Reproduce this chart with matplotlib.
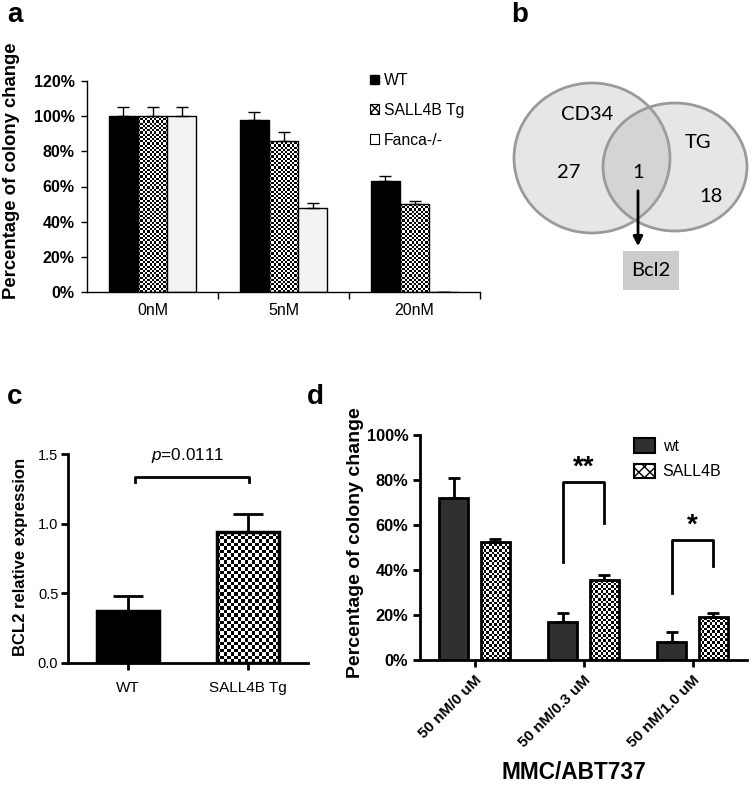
import numpy as np
import matplotlib
matplotlib.use('Agg')
import matplotlib.pyplot as plt
from matplotlib.patches import Ellipse, Rectangle, Patch

plt.rcParams['font.family'] = ['Liberation Sans', 'DejaVu Sans']
plt.rcParams['mathtext.fontset'] = 'custom'
plt.rcParams['mathtext.it'] = 'Liberation Sans:italic'
plt.rcParams['mathtext.rm'] = 'Liberation Sans'

# ---- data ----
# panel a
conc = ['0nM', '5nM', '20nM']
wt_a = [100, 98, 63]
wt_a_err = [5, 4.5, 3]
tg_a = [100, 86, 50]
tg_a_err = [5, 5, 2]
fa_a = [100, 48, 0]
fa_a_err = [5, 2.5, 0]
legend_a = ['WT', 'SALL4B Tg', 'Fanca-/-']

# panel b
venn_names = ['CD34', 'TG']
venn_counts = [27, 1, 18]
shared_gene = 'Bcl2'

# panel c
groups_c = ['WT', 'SALL4B Tg']
bcl2 = [0.37, 0.94]
bcl2_err = [0.11, 0.13]
p_label = r'$\it{p}$=0.0111'

# panel d
combos = ['50 nM/0 uM', '50 nM/0.3 uM', '50 nM/1.0 uM']
wt_d = [72, 17, 8]
wt_d_err = [9, 4, 4.5]
tg_d = [52.5, 35.5, 19]
tg_d_err = [1.5, 2.3, 2]
legend_d = ['wt', 'SALL4B']
stars = ['', '**', '*']


W, H = 754, 786
fig = plt.figure(figsize=(W / 100, H / 100), dpi=100)


def box(l, r, top, bot):
    return [l / W, 1 - bot / H, (r - l) / W, (bot - top) / H]


def checker(ax, bars, cell):
    # fill the bars with a black/white checkerboard
    for b in bars:
        x, y, w, h = b.get_x(), b.get_y(), b.get_width(), b.get_height()
        if h <= 0:
            continue
        p0 = ax.transData.transform((x, y))
        p1 = ax.transData.transform((x + w, y + h))
        nx = max(1, int(round(abs(p1[0] - p0[0]) / cell)))
        ny = max(1, int(round(abs(p1[1] - p0[1]) / cell)))
        board = np.add.outer(np.arange(ny), np.arange(nx)) % 2
        im = ax.imshow(board, cmap='gray', extent=(x, x + w, y, y + h),
                       interpolation='nearest', aspect='auto', zorder=1.5)
        im.set_clip_path(b)


def spines(ax, lw):
    ax.spines['top'].set_visible(False)
    ax.spines['right'].set_visible(False)
    ax.spines['left'].set_linewidth(lw)
    ax.spines['bottom'].set_linewidth(lw)


# ---------- panel a ----------
axA = fig.add_axes(box(87, 480, 81, 292))
spines(axA, 1)
x = np.arange(len(conc))
bw = 0.222
axA.set_xlim(-0.5, 2.5)
axA.set_ylim(0, 120)
axA.set_autoscale_on(False)
ek = dict(ecolor='k', elinewidth=1, capsize=4, capthick=1)
axA.bar(x - bw, wt_a, bw, color='k', edgecolor='k', linewidth=1,
        yerr=[[0] * 3, wt_a_err], error_kw=ek, zorder=2)
b_tg = axA.bar(x, tg_a, bw, color='none', edgecolor='k', linewidth=1,
               yerr=[[0] * 3, tg_a_err], error_kw=ek, zorder=2)
axA.bar(x + bw, fa_a, bw, color='#f2f2f2', edgecolor='k', linewidth=1,
        yerr=[[0] * 3, fa_a_err], error_kw=ek, zorder=2)
checker(axA, b_tg, 2.2)
axA.set_yticks(np.arange(0, 121, 20))
axA.set_yticklabels([f'{v}%' for v in range(0, 121, 20)], fontweight='bold', fontsize=11.5)
axA.tick_params(axis='y', length=4, width=1, pad=5)
axA.set_xticks(x)
axA.set_xticklabels(conc, fontsize=11.5)
axA.set_xticks([0.5, 1.5, 2.5], minor=True)
axA.tick_params(axis='x', which='major', length=0, pad=8)
axA.tick_params(axis='x', which='minor', length=5, width=1)
axA.set_ylabel('Percentage of colony change', fontweight='bold', fontsize=13.3)
axA.yaxis.set_label_coords(-0.17, 0.575)
hA = [Patch(facecolor='k', edgecolor='k'),
      Patch(facecolor='white', edgecolor='k', hatch='xxxx', linewidth=0.8),
      Patch(facecolor='white', edgecolor='k', linewidth=0.8)]
axA.legend(hA, legend_a, loc='upper left', bbox_to_anchor=(0.70, 1.075), frameon=False,
           fontsize=11.3, handlelength=0.6, handleheight=0.6, handletextpad=0.3,
           labelspacing=0.95, borderpad=0)

# ---------- panel b ----------
axB = fig.add_axes(box(490, 754, 40, 310))
axB.set_xlim(490, 754)
axB.set_ylim(310, 40)
axB.axis('off')
for (cx, cy, ew, eh) in [(592, 158, 156, 150), (675, 167, 144, 128)]:
    axB.add_patch(Ellipse((cx, cy), ew, eh, facecolor='#a6a6a6', alpha=0.28, edgecolor='none'))
    axB.add_patch(Ellipse((cx, cy), ew, eh, facecolor='none', edgecolor='#9a9a9a', linewidth=2))
vf = dict(family=['Lato', 'DejaVu Sans'], fontsize=14.5, ha='center', va='center')
axB.text(587, 115, venn_names[0], **vf)
axB.text(698, 143, venn_names[1], **vf)
axB.text(569, 173, str(venn_counts[0]), **vf)
axB.text(638, 173, str(venn_counts[1]), **vf)
axB.text(711, 197, str(venn_counts[2]), **vf)
axB.annotate('', xy=(638, 249), xytext=(638, 188),
             arrowprops=dict(arrowstyle='-|>', color='k', lw=2, mutation_scale=14))
axB.add_patch(Rectangle((623, 251), 56, 39, facecolor='#cccccc', edgecolor='none'))
axB.text(651, 271, shared_gene, **vf)

# ---------- panel c ----------
axC = fig.add_axes(box(68, 308, 454, 663))
spines(axC, 2)
xc = np.arange(len(groups_c))
axC.set_xlim(-0.5, 1.5)
axC.set_ylim(0, 1.5)
axC.set_autoscale_on(False)
bc = axC.bar(xc, bcl2, 0.52, color=['k', 'none'], edgecolor='k', linewidth=2.5,
             yerr=[[0, 0], bcl2_err],
             error_kw=dict(ecolor='k', elinewidth=2, capsize=10.5, capthick=2), zorder=2)
checker(axC, [bc[1]], 3.5)
axC.set_yticks([0, 0.5, 1.0, 1.5])
axC.set_yticklabels(['0.0', '0.5', '1.0', '1.5'], fontsize=10.5)
axC.set_xticks(xc)
axC.set_xticklabels(groups_c, fontsize=11)
axC.tick_params(axis='both', length=5, width=2, pad=2)
axC.tick_params(axis='x', pad=8)
axC.set_ylabel('BCL2 relative expression', fontweight='bold', fontsize=12)
axC.yaxis.set_label_coords(-0.165, 0.507)
axC.plot([0.06, 0.06, 1.01, 1.01], [1.30, 1.335, 1.335, 1.30], color='k', lw=2, clip_on=False)
axC.text(0.5, 1.49, p_label, ha='center', va='center', fontsize=12.3)

# ---------- panel d ----------
axD = fig.add_axes(box(420, 747, 435, 660))
spines(axD, 2)
xd = np.arange(len(combos))
dw, off = 0.265, 0.19
axD.set_xlim(-0.5, 2.5)
axD.set_ylim(0, 100)
axD.set_autoscale_on(False)
ekd = dict(ecolor='k', elinewidth=2, capsize=4.5, capthick=2)
axD.bar(xd - off, wt_d, dw, color='#303030', edgecolor='k', linewidth=2,
        yerr=[[0] * 3, wt_d_err], error_kw=ekd, zorder=2)
b_tgd = axD.bar(xd + off, tg_d, dw, color='none', edgecolor='k', linewidth=2,
                yerr=[[0] * 3, tg_d_err], error_kw=ekd, zorder=2)
checker(axD, b_tgd, 2.6)
axD.set_yticks(np.arange(0, 101, 20))
axD.set_yticklabels([f'{v}%' for v in range(0, 101, 20)], fontweight='bold', fontsize=11.8)
axD.set_xticks(xd)
axD.set_xticklabels(combos, fontweight='bold', fontsize=11, rotation=45,
                    ha='right', rotation_mode='anchor')
axD.tick_params(axis='both', length=5, width=2)
axD.tick_params(axis='x', pad=4)
axD.set_ylabel('Percentage of colony change', fontweight='bold', fontsize=14)
axD.yaxis.set_label_coords(-0.17, 0.52)
axD.set_xlabel('MMC/ABT737', fontweight='bold', fontsize=16.3)
axD.xaxis.set_label_coords(0.47, -0.45)
# significance brackets: (left end, top, right end)
brk = {1: (43.5, 79, 61), 2: (30, 53.5, 42)}
for i, (lo, top, ro) in brk.items():
    axD.plot([i - off, i - off, i + off, i + off], [lo, top, top, ro], color='k', lw=2)
    axD.text(i, top + 0.5, stars[i], ha='center', va='bottom', fontsize=20, fontweight='bold')
hD = [Patch(facecolor='#303030', edgecolor='k', linewidth=1.5),
      Patch(facecolor='white', edgecolor='k', hatch='xxx', linewidth=1.5)]
axD.legend(hD, legend_d, loc='upper left', bbox_to_anchor=(0.63, 1.02), frameon=False,
           fontsize=11.5, handlelength=1.3, handleheight=1.0, handletextpad=0.5,
           labelspacing=0.6, borderpad=0)

# panel letters
for lab, (px, py) in zip('abcd', [(15, 15), (520, 15), (15, 397), (315, 397)]):
    fig.text(px / W, 1 - py / H, lab, fontsize=20, fontweight='bold', ha='center', va='center')

fig.savefig('out.png', dpi=100)
